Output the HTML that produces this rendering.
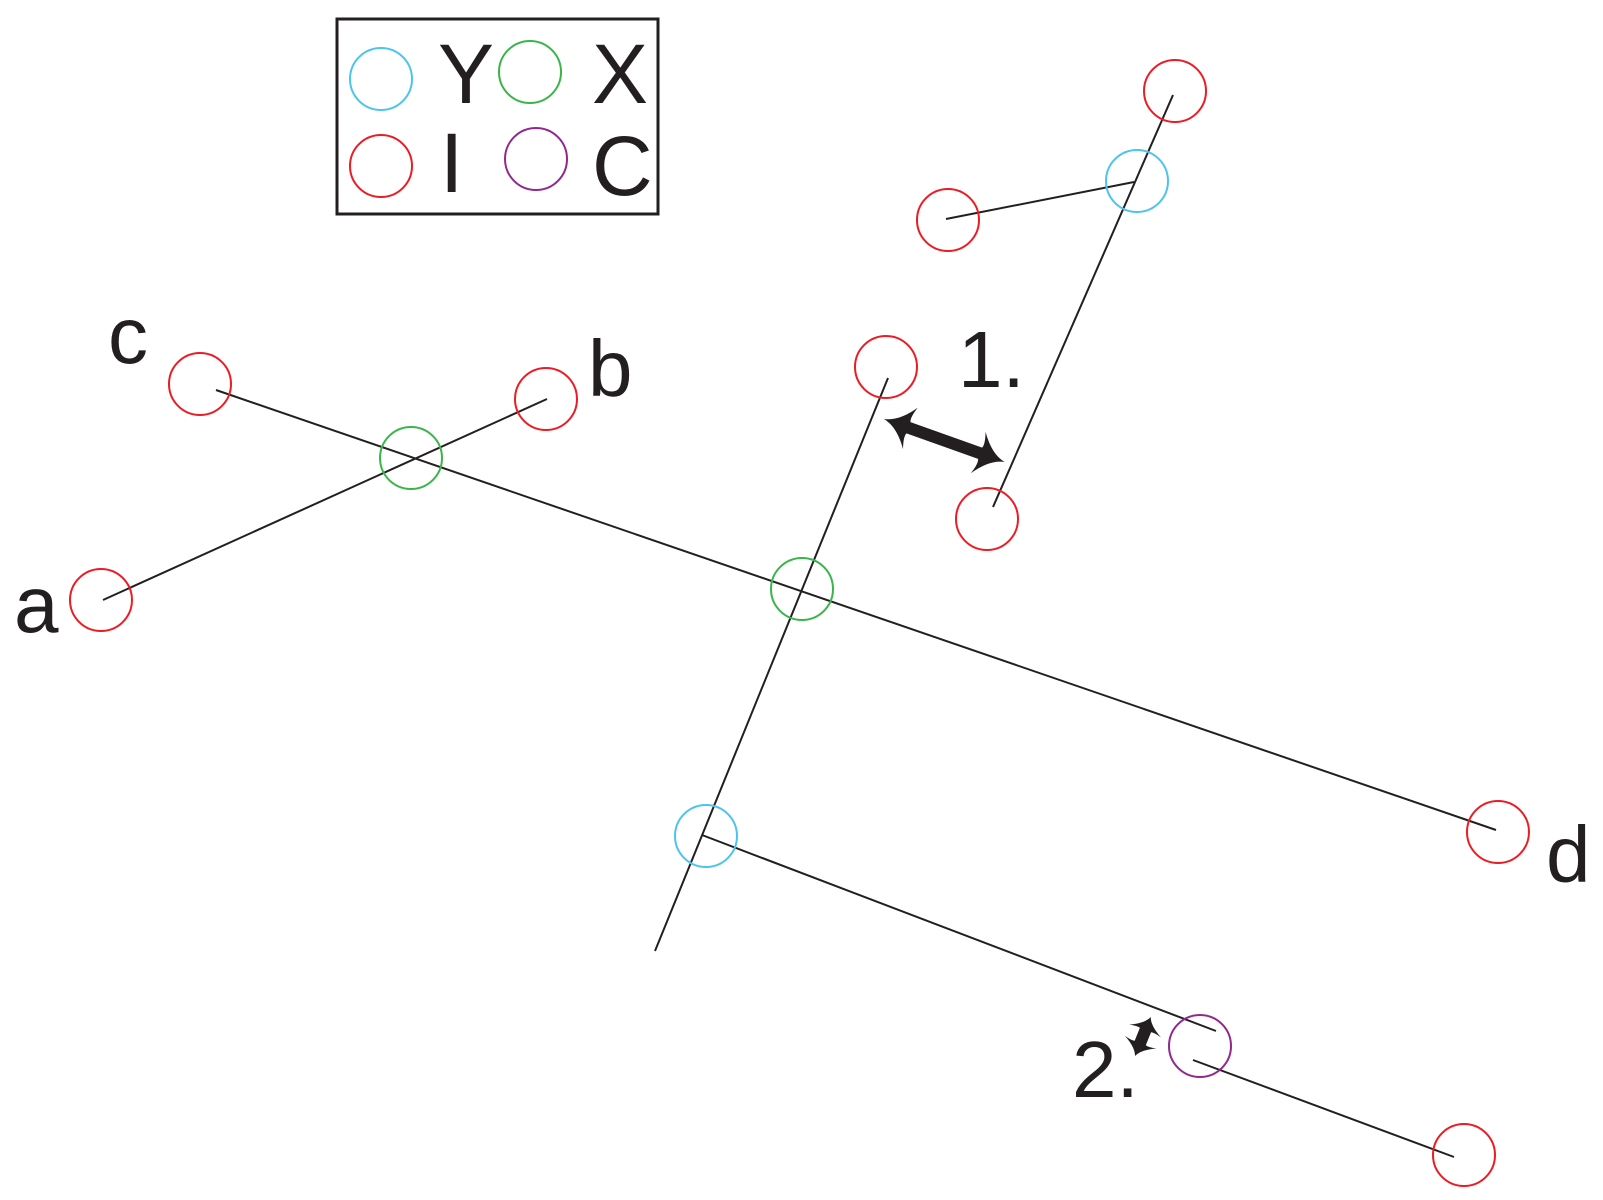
<!DOCTYPE html>
<html><head><meta charset="utf-8"><style>
html,body{margin:0;padding:0;background:#fff;}
svg{display:block;}
text{font-family:"Liberation Sans",sans-serif;fill:#231f20;}
</style></head><body>
<svg width="1603" height="1200" viewBox="0 0 1603 1200" xmlns="http://www.w3.org/2000/svg">
<rect x="337" y="19" width="321" height="195" fill="none" stroke="#231f20" stroke-width="3"/>
<g fill="none" stroke-width="2">
<circle cx="381" cy="79" r="31" stroke="#4dc3ef"/>
<circle cx="530" cy="72" r="31" stroke="#3ab54a"/>
<circle cx="381" cy="166" r="31" stroke="#ed1c24"/>
<circle cx="536" cy="159" r="31" stroke="#92278f"/>
</g>
<g font-size="84">
<text x="438" y="103">Y</text>
<text x="592" y="103">X</text>
<text x="440" y="192">I</text>
<text x="592" y="195">C</text>
</g>
<g stroke="#231f20" stroke-width="2" fill="none">
<line x1="1173" y1="95" x2="993" y2="507"/>
<line x1="946" y1="219" x2="1134" y2="182"/>
<line x1="216" y1="390" x2="1496" y2="830"/>
<line x1="103" y1="600" x2="547" y2="399"/>
<line x1="888" y1="378" x2="655" y2="951"/>
<line x1="702" y1="835" x2="1216" y2="1031"/>
<line x1="1193" y1="1060" x2="1454" y2="1157"/>
</g>
<g fill="none" stroke-width="2">
<circle cx="1175" cy="91" r="31" stroke="#ed1c24"/>
<circle cx="1137" cy="181" r="31" stroke="#4dc3ef"/>
<circle cx="948" cy="220" r="31" stroke="#ed1c24"/>
<circle cx="987" cy="519" r="31" stroke="#ed1c24"/>
<circle cx="886" cy="367" r="31" stroke="#ed1c24"/>
<circle cx="200" cy="384" r="31" stroke="#ed1c24"/>
<circle cx="546" cy="399" r="31" stroke="#ed1c24"/>
<circle cx="101" cy="600" r="31" stroke="#ed1c24"/>
<circle cx="411" cy="458" r="31" stroke="#3ab54a"/>
<circle cx="802" cy="589" r="31" stroke="#3ab54a"/>
<circle cx="1498" cy="832" r="31" stroke="#ed1c24"/>
<circle cx="706" cy="836" r="31" stroke="#4dc3ef"/>
<circle cx="1200" cy="1046" r="31" stroke="#92278f"/>
<circle cx="1464" cy="1155" r="31" stroke="#ed1c24"/>
</g>
<g font-size="80">
<text x="108" y="363">c</text>
<text x="588" y="396">b</text>
<text x="14" y="632">a</text>
<text x="1546" y="882">d</text>
<text x="958" y="387">1.</text>
<text x="1072" y="1097">2.</text>
</g>
<g fill="#231f20">
<path transform="translate(884,419) rotate(19.6)" d="M0,0 Q15,-3 28,-22 Q24,-10 26,-6 L102,-6 Q104,-10 100,-22 Q113,-3 128,0 Q113,3 100,22 Q104,10 102,6 L26,6 Q24,10 28,22 Q15,3 0,0Z"/>
<path transform="translate(1135,1056) rotate(-68)" d="M0,0 Q8,-3 15,-17 Q13,-9 14,-6 L28,-6 Q29,-9 27,-17 Q34,-3 42,0 Q34,3 27,17 Q29,9 28,6 L14,6 Q13,9 15,17 Q8,3 0,0Z"/>
</g>
</svg>
</body></html>
